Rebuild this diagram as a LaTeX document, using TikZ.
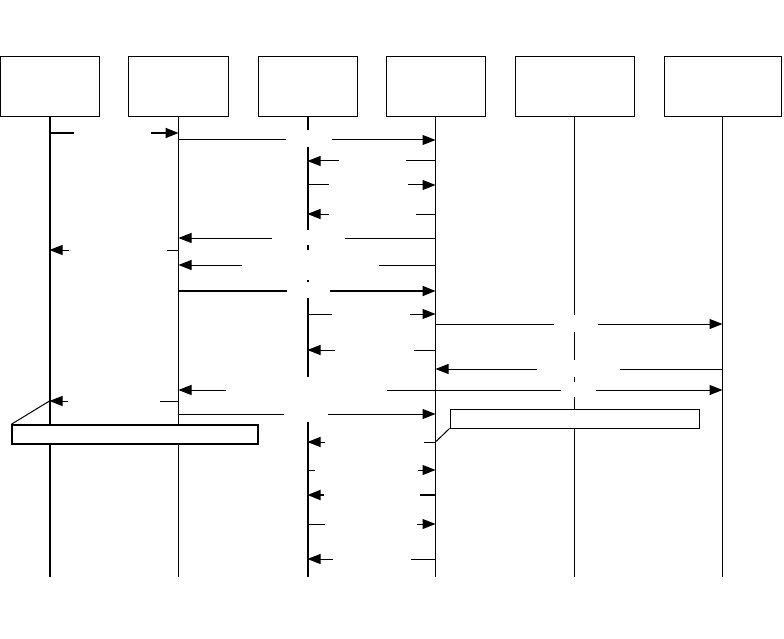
\documentclass[tikz,border=0pt]{standalone}
\usetikzlibrary{arrows.meta}
\begin{document}
\begin{tikzpicture}[x=1pt,y=-1pt,>={Triangle[length=13pt,width=10pt]},
 participante/.style={draw,line width=1pt,minimum height=60pt,inner sep=0pt},
 vida/.style={line width=1pt},
 activa/.style={line width=2pt},
 mensaje/.style={->,line width=1pt},
 fuerte/.style={->,line width=1.8pt},
 hueco/.style={fill=white,inner sep=0pt,minimum height=16pt},
 nota/.style={draw,fill=white,line width=1pt,inner sep=0pt,minimum height=19pt}]
\useasboundingbox (0,0) rectangle (784,639);
% participantes
\node[participante,minimum width=99pt] (p1) at (49.5,87) {};
\node[participante,minimum width=100pt] (p2) at (178.5,87) {};
\node[participante,minimum width=99pt] (p3) at (307.5,87) {};
\node[participante,minimum width=99pt] (p4) at (435.5,87) {};
\node[participante,minimum width=119pt] (p5) at (574.5,87) {};
\node[participante,minimum width=117pt] (p6) at (722.5,87) {};
\coordinate (f1) at (p1.south |- 0,577);
\coordinate (f2) at (p2.south |- 0,577);
\coordinate (f3) at (p3.south |- 0,577);
\coordinate (f4) at (p4.south |- 0,577);
\coordinate (f5) at (p5.south |- 0,577);
\coordinate (f6) at (p6.south |- 0,577);
% lineas de vida
\draw[activa] (p1.south)--(f1);
\draw[vida] (p2.south)--(f2);
\draw[activa] (p3.south)--(f3);
\draw[vida] (p4.south)--(f4);
\draw[vida] (p5.south)--(f5);
\draw[vida] (p6.south)--(f6);
% mensajes
\draw[fuerte] (p1.south |- 0,133)--(p2.south |- 0,133);
\draw[mensaje] (p2.south |- 0,140)--(p4.south |- 0,140);
\draw[mensaje] (p4.south |- 0,161)--(p3.south |- 0,161);
\draw[mensaje] (p3.south |- 0,185)--(p4.south |- 0,185);
\draw[mensaje] (p4.south |- 0,214)--(p3.south |- 0,214);
\draw[mensaje] (p4.south |- 0,238)--(p2.south |- 0,238);
\draw[mensaje] (p2.south |- 0,250)--(p1.south |- 0,250);
\draw[mensaje] (p4.south |- 0,265)--(p2.south |- 0,265);
\draw[fuerte] (p2.south |- 0,291)--(p4.south |- 0,291);
\draw[mensaje] (p3.south |- 0,314)--(p4.south |- 0,314);
\draw[mensaje] (p4.south |- 0,324)--(p6.south |- 0,324);
\draw[mensaje] (p4.south |- 0,350)--(p3.south |- 0,350);
\draw[mensaje] (p6.south |- 0,369)--(p4.south |- 0,369);
\draw[mensaje] (p4.south |- 0,390)--(p2.south |- 0,390);
\draw[mensaje] (p4.south |- 0,390)--(p6.south |- 0,390);
\draw[mensaje] (p2.south |- 0,401)--(p1.south |- 0,401);
\draw[mensaje] (p2.south |- 0,414)--(p4.south |- 0,414);
\draw[mensaje] (p4.south |- 0,442)--(p3.south |- 0,442);
\draw[mensaje] (p3.south |- 0,470)--(p4.south |- 0,470);
\draw[fuerte] (p4.south |- 0,495)--(p3.south |- 0,495);
\draw[mensaje] (p3.south |- 0,524)--(p4.south |- 0,524);
\draw[mensaje] (p4.south |- 0,559)--(p3.south |- 0,559);
% huecos de las etiquetas
\node[hueco,minimum width=77pt] (h1) at (112.5,133) {};
\node[hueco,minimum width=46pt,minimum height=17pt] (h2) at (309,138.5) {};
\node[hueco,minimum width=67pt] (h3) at (372.5,161) {};
\node[hueco,minimum width=79pt] (h4) at (368.5,185) {};
\node[hueco,minimum width=87pt] (h5) at (372.5,214) {};
\node[hueco,minimum width=73pt,minimum height=15pt] (h6) at (308.5,237.5) {};
\node[hueco,minimum width=98pt] (h7) at (118,250) {};
\node[hueco,minimum width=137pt,minimum height=30pt] (h8) at (310.5,265) {};
\node[hueco,minimum width=43pt] (h9) at (308.5,290) {};
\node[hueco,minimum width=78pt] (h10) at (371,314) {};
\node[hueco,minimum width=44pt,minimum height=17pt] (h11) at (576,323.5) {};
\node[hueco,minimum width=79pt] (h12) at (374.5,350) {};
\node[hueco,minimum width=83pt,minimum height=17pt] (h13) at (578.5,368.5) {};
\node[hueco,minimum width=161pt,minimum height=28pt] (h14) at (306.5,391) {};
\node[hueco,minimum width=35pt,minimum height=15pt] (h15) at (578.5,389.5) {};
\node[hueco,minimum width=92pt] (h16) at (114,401) {};
\node[hueco,minimum width=44pt,minimum height=17pt] (h17) at (306,413.5) {};
\node[hueco,minimum width=99pt] (h18) at (374.5,442) {};
\node[hueco,minimum width=103pt] (h19) at (366.5,470) {};
\node[hueco,minimum width=96pt] (h20) at (372,495) {};
\node[hueco,minimum width=92pt] (h21) at (371,524) {};
\node[hueco,minimum width=78pt] (h22) at (372,559) {};
% notas
\node[nota,line width=1.4pt,minimum width=246pt] (n1) at (135,434.5) {};
\node[nota,minimum width=249pt] (n2) at (574.5,418.5) {};
\draw[vida] (n1.north west)--(p1.south |- 0,401);
\draw[vida] (n2.south west)--(p4.south |- 0,442);
\end{tikzpicture}
\end{document}
